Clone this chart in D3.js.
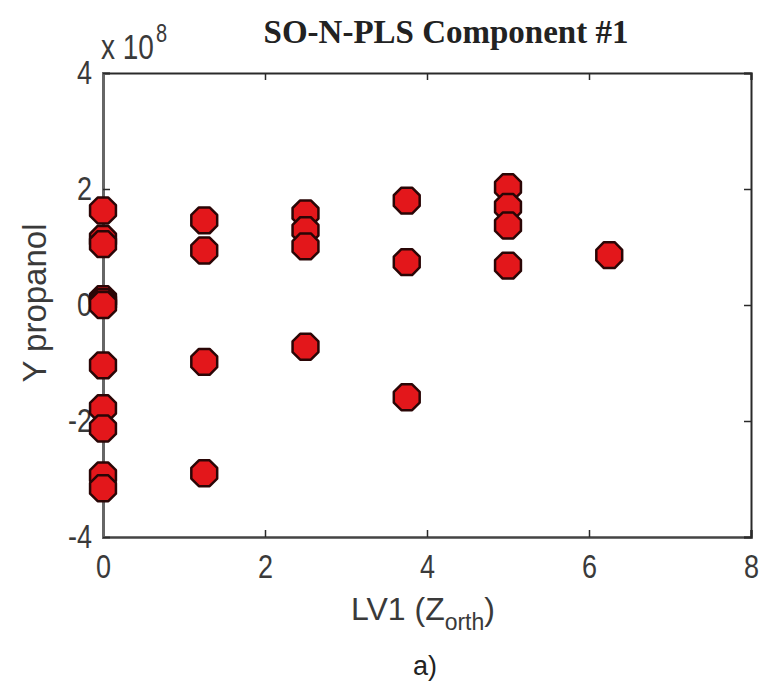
<!DOCTYPE html>
<html>
<head>
<meta charset="utf-8">
<script src="https://cdn.jsdelivr.net/npm/d3@7/dist/d3.min.js"></script>
<style>
  html, body { margin: 0; padding: 0; background: #fff; }
  svg { display: block; }
</style>
</head>
<body>
<svg id="chart" width="763" height="681"></svg>
<script>
// LV1 scores (Z_orth) and Y propanol responses, in units of 1e8
const lv1 = [
  0, 0, 0, 0, 0, 0, 0, 0, 0, 0, 0,
  1.25, 1.25, 1.25, 1.25,
  2.5, 2.5, 2.5, 2.5,
  3.75, 3.75, 3.75,
  5, 5, 5, 5,
  6.25
];
const yPropanol = [
  1.63, 1.14, 1.05, 0.1, 0.05, -1.04, -1.78, -2.13, -2.94, -3.16, 0.0,
  1.46, 0.94, -0.98, -2.9,
  1.58, 1.29, 1.01, -0.72,
  1.8, 0.74, -1.59,
  2.03, 1.69, 1.37, 0.68,
  0.86
];
const xTicks = [0, 2, 4, 6, 8];
const yTicks = [-4, -2, 0, 2, 4];

const svg = d3.select("#chart");
const plotLeft = 103, plotRight = 751, plotTop = 73, plotBottom = 537;

const x = d3.scaleLinear().domain([0, 8]).range([plotLeft, plotRight]);
const y = d3.scaleLinear().domain([-4, 4]).range([plotBottom, plotTop]);

const axisColor = "#2a2a2a";
const labelColor = "#3a3a3a";
const sans = "'Liberation Sans', Arial, sans-serif";
const tall = "scale(1,1.25)";   // tick numerals are set tall and narrow

// axes box with inward ticks on all four sides
const plain = d => String(d);
const gx = svg.append("g").attr("transform", `translate(0,${plotBottom})`)
  .call(d3.axisBottom(x).tickValues(xTicks).tickSize(-7).tickPadding(14).tickFormat(plain));
const gxTop = svg.append("g").attr("transform", `translate(0,${plotTop})`)
  .call(d3.axisTop(x).tickValues(xTicks).tickSize(-7).tickFormat(""));
const gy = svg.append("g").attr("transform", `translate(${plotLeft},0)`)
  .call(d3.axisLeft(y).tickValues(yTicks).tickSize(-7).tickPadding(11).tickFormat(plain));
const gyRight = svg.append("g").attr("transform", `translate(${plotRight},0)`)
  .call(d3.axisRight(y).tickValues(yTicks).tickSize(-7).tickFormat(""));

[gx, gxTop, gy, gyRight].forEach(g => {
  g.select(".domain").attr("stroke", axisColor).attr("stroke-width", 2);
  g.selectAll(".tick line").attr("stroke", axisColor).attr("stroke-width", 1.5);
  g.selectAll(".tick text").attr("fill", labelColor).attr("transform", tall)
    .style("font-family", sans).style("font-size", "27px");
});
gy.select(".domain").attr("stroke", "#666").attr("stroke-width", 3);
gx.select(".domain").attr("stroke", "#444").attr("stroke-width", 2.5);

// scatter markers: octagonal dots
const octagon = d3.range(8).map(k => {
  const a = Math.PI / 8 + k * Math.PI / 4;
  return [14 * Math.cos(a), 14 * Math.sin(a)];
});
const octPath = "M" + octagon.map(p => p.join(",")).join("L") + "Z";

svg.append("g").selectAll("path")
  .data(lv1.map((v, i) => ({ x: v, y: yPropanol[i] })))
  .join("path")
  .attr("transform", d => `translate(${x(d.x)},${y(d.y)})`)
  .attr("d", octPath)
  .attr("fill", "#e3171b")
  .attr("stroke", "#2a0606")
  .attr("stroke-width", 2.5)
  .attr("stroke-linejoin", "round");

// exponent label
const expo = svg.append("text")
  .attr("transform", "translate(101,59) scale(1,1.25)")
  .attr("fill", labelColor)
  .style("font-family", sans).style("font-size", "28px");
expo.append("tspan").text("x 10");
expo.append("tspan").attr("dx", 2).attr("dy", -14).style("font-size", "20px").text("8");

// title
svg.append("text")
  .attr("x", 446).attr("y", 43)
  .attr("text-anchor", "middle")
  .attr("fill", "#222")
  .style("font-family", "'Liberation Serif', 'Times New Roman', serif")
  .style("font-weight", "bold")
  .style("font-size", "33px")
  .text("SO-N-PLS Component #1");

// y axis label
svg.append("text")
  .attr("transform", `translate(46,303) rotate(-90)`)
  .attr("text-anchor", "middle")
  .attr("fill", labelColor)
  .style("font-family", sans).style("font-size", "33px")
  .text("Y propanol");

// x axis label with subscript
const xl = svg.append("text")
  .attr("x", 423).attr("y", 620)
  .attr("text-anchor", "middle")
  .attr("fill", labelColor)
  .style("font-family", sans).style("font-size", "32px");
xl.append("tspan").text("LV1 (Z");
xl.append("tspan").attr("dy", 10).style("font-size", "23px").text("orth");
xl.append("tspan").attr("dy", -10).text(")");

// panel tag
svg.append("text")
  .attr("x", 425).attr("y", 675)
  .attr("text-anchor", "middle")
  .attr("fill", "#222")
  .style("font-family", sans).style("font-size", "27px")
  .text("a)");
</script>
</body>
</html>
